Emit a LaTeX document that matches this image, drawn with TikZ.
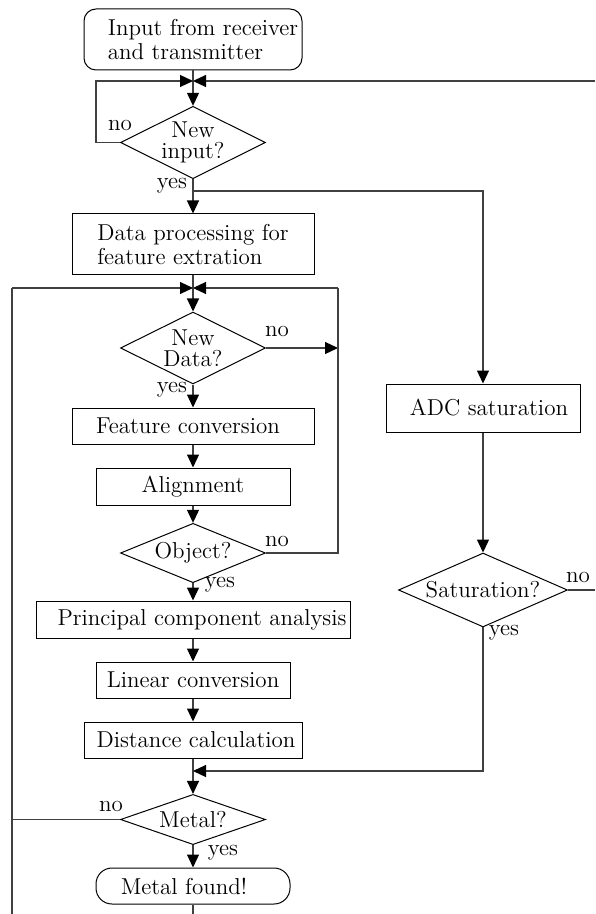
\documentclass[tikz,border=0pt]{standalone}
\usepackage{fontspec}
\usetikzlibrary{shapes.geometric,arrows.meta}
\begin{document}
\begin{tikzpicture}[x=0.5pt,y=-0.5pt,
  font=\fontsize{11.5}{12}\selectfont,
  stepbox/.style={draw, line width=0.5pt, rectangle, inner sep=0.5pt, align=center},
  termbox/.style={stepbox, rounded corners=6pt},
  decision/.style={draw, line width=0.5pt, diamond, aspect=2, inner sep=0pt,
    align=center, font=\fontsize{11.5}{10.3}\selectfont},
  flow/.style={line width=0.6pt, draw=black!75},
  arr/.style={flow, -{Triangle[length=6.5pt,width=6pt,color=black]}},
  lbl/.style={inner sep=0pt}
]
\useasboundingbox (0,0) rectangle (595,914);

% --- main column ---
\node[termbox, minimum width=109pt, minimum height=30.5pt, align=left] (start) at (193,39.5)
  {\hspace*{10pt}Input from receiver\\\hspace*{10pt}and transmitter};
\node[decision, minimum width=72.5pt, minimum height=35.5pt] (ni) at (193,142.5) {New\\input?};
\node[stepbox, minimum width=121pt, minimum height=30.5pt, align=left] (dp) at (193,244.5)
  {Data processing for\\feature extration};
\node[decision, minimum width=72.5pt, minimum height=36pt] (nd) at (193,348) {New\\Data?};
\node[stepbox, minimum width=121pt, minimum height=18pt] (fc) at (193,426) {Feature conversion\hspace*{5pt}};
\node[stepbox, minimum width=97pt, minimum height=18.5pt] (al) at (193,486.5) {Alignment};
\node[decision, minimum width=72.5pt, minimum height=24pt] (obj) at (193,553) {Object?};
\node[stepbox, minimum width=157pt, minimum height=18.5pt] (pca) at (193,619.5)
  {\hspace*{9pt}Principal component analysis};
\node[stepbox, minimum width=97pt, minimum height=18pt] (lc) at (193,680) {Linear conversion};
\node[stepbox, minimum width=109pt, minimum height=18pt] (dc) at (193,740) {\hspace*{3pt}Distance calculation};
\node[decision, minimum width=72.5pt, minimum height=23.5pt] (metal) at (193,819.5) {Metal?};
\node[termbox, rounded corners=8pt, minimum width=97pt, minimum height=18pt] (mf) at (193,886)
  {Metal found!\hspace*{9pt}};

% --- saturation branch ---
\node[stepbox, minimum width=97pt, minimum height=24pt] (adc) at (483,408) {\hspace*{6pt}ADC saturation};
\node[decision, minimum width=84.5pt, minimum height=36pt] (sat) at (483,590) {Saturation?};

% --- junctions and free ends ---
\coordinate (j1) at (193,81);
\coordinate (j2) at (193,288);
\coordinate (j3) at (193,771);
\coordinate (lpA) at (96,81);
\coordinate (ysplit) at (193,191);
\coordinate (rtop) at (595,81);
\coordinate (lpL) at (12,288);
\coordinate (lbot) at (12,914);
\coordinate (rloop) at (338,288);
\coordinate (satR) at (595,590);
\coordinate (mfbot) at (193,914);

% --- connectors ---
\draw[arr] (start.south) -- (ni.north);
\draw[arr] (ni.west) -| (lpA) -- (j1);
\draw[arr] (rtop) -- (j1);
\draw[arr] (ni.south) -- (dp.north);
\draw[arr] (ysplit) -| (adc.north);
\draw[arr] (dp.south) -- (nd.north);
\draw[arr] (lpL) -- (j2);
\draw[flow] (lpL) -- (lbot);
\draw[arr] (rloop) -- (j2);
\draw[arr] (nd.east) -- (nd.east -| rloop);
\draw[flow] (obj.east) -| (rloop);
\draw[arr] (nd.south) -- (fc.north);
\draw[arr] (fc) -- (al);
\draw[arr] (al) -- (obj);
\draw[arr] (obj.south) -- (pca.north);
\draw[arr] (pca) -- (lc);
\draw[arr] (lc) -- (dc);
\draw[arr] (dc.south) -- (metal.north);
\draw[arr] (adc.south) -- (sat.north);
\draw[arr] (sat.south) |- (j3);
\draw[flow] (sat.east) -- (satR);
\draw[flow] (metal.west) -- (metal.west -| lpL);
\draw[arr] (metal.south) -- (mf.north);
\draw[flow] (mf.south) -- (mfbot);

% --- branch labels ---
\node[lbl] (l1) at (120,125) {no};
\node[lbl] (l2) at (172,186) {yes};
\node[lbl] (l3) at (277,331) {no};
\node[lbl] (l4) at (172,390) {yes};
\node[lbl] (l5) at (277,541) {no};
\node[lbl] (l6) at (220,585) {yes};
\node[lbl] (l7) at (578,577) {no};
\node[lbl] (l8) at (504,633) {yes};
\node[lbl] (l9) at (111,806) {no};
\node[lbl] (l10) at (223,853) {yes};
\end{tikzpicture}
\end{document}
